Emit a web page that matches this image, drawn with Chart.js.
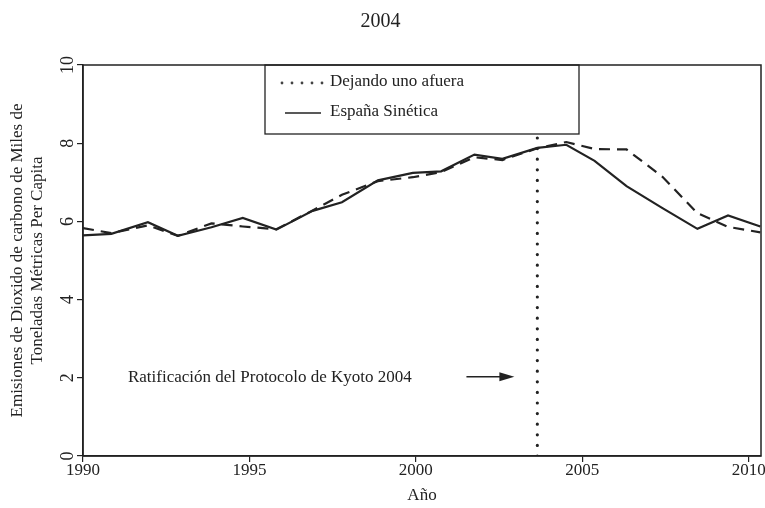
<!DOCTYPE html>
<html>
<head>
<meta charset="utf-8">
<script src="https://cdn.jsdelivr.net/npm/chart.js@4/dist/chart.umd.min.js"></script>
<style>
  html, body { margin: 0; padding: 0; background: #ffffff; }
  #c { display: block; }
</style>
</head>
<body>
<canvas id="c" width="765" height="508"></canvas>
<script>
// ---- data ----
const chartTitle = '2004';
const years = [1990, 1990.85, 1991.95, 1992.85, 1993.86, 1994.8, 1995.81, 1996.9, 1997.78, 1998.86, 1999.91,
               2000.76, 2001.76, 2002.6, 2003.65, 2004.52, 2005.37, 2006.33, 2007.41, 2008.46, 2009.38, 2010.35];
const espanaSinetica = [5.64, 5.68, 5.98, 5.63, 5.85, 6.09, 5.79, 6.27, 6.49, 7.05, 7.24,
                        7.28, 7.71, 7.60, 7.88, 7.96, 7.55, 6.90, 6.34, 5.81, 6.15, 5.87];
const dejandoUnoAfuera = [5.83, 5.70, 5.90, 5.63, 5.95, 5.87, 5.80, 6.28, 6.68, 7.03, 7.13,
                          7.26, 7.64, 7.57, 7.87, 8.03, 7.85, 7.84, 7.14, 6.21, 5.86, 5.72];
const interventionYear = 2003.65;
const xTickValues = [1990, 1995, 2000, 2005, 2010];
const yTickValues = [0, 2, 4, 6, 8, 10];
const seriesLabels = ['Dejando uno afuera', 'España Sinética'];
const xAxisTitle = 'Año';
const yAxisTitle = ['Emisiones de Dioxido de carbono de Miles de', 'Toneladas Métricas Per Capita'];
const annotationText = 'Ratificación del Protocolo de Kyoto 2004';

const FONT = '"Liberation Serif", "Times New Roman", serif';
const INK = '#222222';

const overlay = {
  id: 'overlay',
  afterDatasetsDraw(chart) {
    const ctx = chart.ctx;
    const a = chart.chartArea;
    const xs = chart.scales.x, ys = chart.scales.y;
    ctx.save();
    // legend box
    const bx = a.left + 182, by = a.top, bw = 314, bh = 69;
    ctx.fillStyle = '#ffffff';
    ctx.fillRect(bx, by, bw, bh);
    ctx.strokeStyle = INK;
    ctx.lineWidth = 1.3;
    ctx.strokeRect(bx, by, bw, bh);
    // dotted sample
    ctx.fillStyle = '#444';
    for (let i = 0; i < 5; i++) {
      ctx.beginPath();
      ctx.arc(bx + 17 + i * 10, by + 18, 1.4, 0, Math.PI * 2);
      ctx.fill();
    }
    // solid sample
    ctx.strokeStyle = INK;
    ctx.lineWidth = 1.5;
    ctx.beginPath();
    ctx.moveTo(bx + 20, by + 48);
    ctx.lineTo(bx + 56, by + 48);
    ctx.stroke();
    ctx.fillStyle = INK;
    ctx.font = '17px ' + FONT;
    ctx.textBaseline = 'middle';
    ctx.textAlign = 'left';
    ctx.fillText(seriesLabels[0], bx + 65, by + 17);
    ctx.fillText(seriesLabels[1], bx + 65, by + 47);

    // annotation text + arrow
    const ty = ys.getPixelForValue(2.0);
    ctx.font = '17px ' + FONT;
    ctx.fillText(annotationText, xs.getPixelForValue(1991.35), ty);
    const ax0 = xs.getPixelForValue(2001.52), ax1 = xs.getPixelForValue(2002.96);
    ctx.lineWidth = 1.4;
    ctx.beginPath();
    ctx.moveTo(ax0, ty - 1);
    ctx.lineTo(ax1 - 12, ty - 1);
    ctx.stroke();
    ctx.beginPath();
    ctx.moveTo(ax1, ty - 1);
    ctx.lineTo(ax1 - 15, ty - 5.5);
    ctx.lineTo(ax1 - 15, ty + 3.5);
    ctx.closePath();
    ctx.fill();

    // plot frame
    ctx.lineWidth = 1.5;
    ctx.strokeStyle = INK;
    ctx.strokeRect(a.left, a.top, a.right - a.left, a.bottom - a.top);
    ctx.restore();
  }
};

new Chart(document.getElementById('c'), {
  type: 'line',
  data: {
    datasets: [
      {
        label: seriesLabels[0],
        data: years.map((x, i) => ({ x: x, y: dejandoUnoAfuera[i] })),
        borderColor: INK, borderWidth: 2.2, borderDash: [11, 7],
        pointRadius: 0, tension: 0, fill: false
      },
      {
        label: seriesLabels[1],
        data: years.map((x, i) => ({ x: x, y: espanaSinetica[i] })),
        borderColor: INK, borderWidth: 2.2,
        pointRadius: 0, tension: 0, fill: false
      },
      {
        label: 'Kyoto',
        data: [{ x: interventionYear, y: 0 }, { x: interventionYear, y: 10 }],
        borderColor: INK, borderWidth: 3.2, borderDash: [0, 10.6], borderCapStyle: 'round',
        pointRadius: 0, fill: false
      }
    ]
  },
  options: {
    responsive: false,
    devicePixelRatio: 1,
    animation: false,
    layout: { padding: { left: 0, right: 4, top: 0, bottom: 0 } },
    plugins: {
      legend: { display: false },
      tooltip: { enabled: false },
      title: {
        display: true, text: chartTitle, color: INK,
        font: { family: FONT, size: 20, weight: 'normal' },
        padding: { top: 10, bottom: 31 }
      }
    },
    scales: {
      x: {
        type: 'linear', min: 1990, max: 2010.37,
        afterBuildTicks: s => { s.ticks = xTickValues.map(v => ({ value: v })); },
        afterFit: s => { s.height = 52; },
        ticks: { color: INK, font: { family: FONT, size: 17 }, padding: -2, maxRotation: 0, autoSkip: false,
                 callback: v => String(v) },
        grid: { drawOnChartArea: false, drawTicks: true, tickLength: 6, color: INK, lineWidth: 1.2 },
        border: { display: true, color: INK, width: 1.5 },
        title: { display: true, text: xAxisTitle, color: INK, font: { family: FONT, size: 17 },
                 padding: { top: 0, bottom: 2 } }
      },
      y: {
        min: 0, max: 10,
        afterBuildTicks: s => { s.ticks = yTickValues.map(v => ({ value: v })); },
        afterFit: s => { s.width = 83; },
        ticks: { color: INK, font: { family: FONT, size: 18 }, padding: 0, minRotation: 90, maxRotation: 90,
                 crossAlign: 'center', callback: v => String(v) },
        grid: { drawOnChartArea: false, drawTicks: true, tickLength: 6, color: INK, lineWidth: 1.2 },
        border: { display: true, color: INK, width: 1.5 },
        title: { display: true, text: yAxisTitle, color: INK, font: { family: FONT, size: 17 },
                 padding: { top: 7, bottom: 0 } }
      }
    }
  },
  plugins: [overlay]
});
</script>
</body>
</html>
